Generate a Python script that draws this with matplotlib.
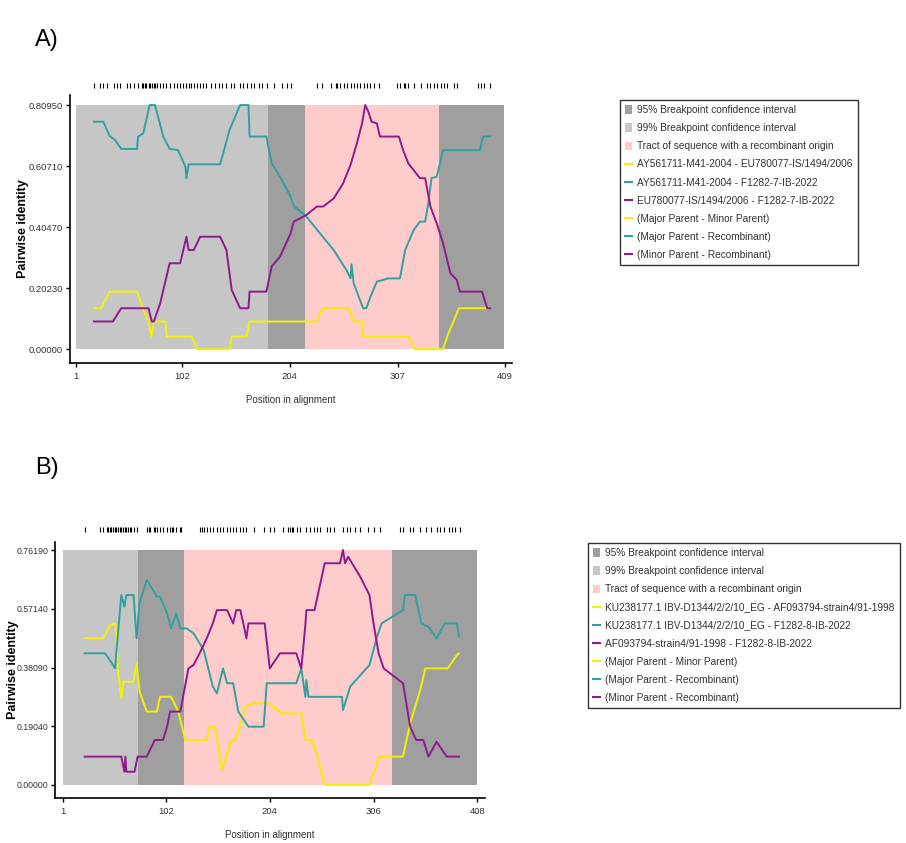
import numpy as np
import matplotlib
matplotlib.use("Agg")
import matplotlib.pyplot as plt
from matplotlib.patches import Patch
from matplotlib.lines import Line2D
from matplotlib.transforms import blended_transform_factory

plt.rcParams['font.family'] = ['Liberation Sans', 'DejaVu Sans']

# ---------------- panel A data ----------------
a_xticks = [1, 102, 204, 307, 409]
a_yticks = [0.0, 0.2023, 0.4047, 0.6071, 0.8095]
a_ylabels = ["0.00000", "0.20230", "0.40470", "0.60710", "0.80950"]
a_light = (1, 184)      # 99% breakpoint CI
a_dark = [(184, 219), (346, 408)]   # 95% breakpoint CI
a_pink = (219, 346)     # recombinant tract

a_yel_x = [18, 25, 33, 59, 65, 70, 73, 75, 86, 87, 111, 116, 147, 149, 163, 166, 230, 235,
           260, 265, 273, 274, 317, 323, 350, 355, 360, 365, 395]
a_yel_y = [0.136, 0.136, 0.191, 0.191, 0.130, 0.092, 0.042, 0.092, 0.092, 0.042, 0.042, 0.0,
           0.0, 0.042, 0.042, 0.092, 0.092, 0.136, 0.136, 0.092, 0.092, 0.042, 0.042, 0.0,
           0.0, 0.053, 0.092, 0.136, 0.136]

a_cyan_x = [18, 27, 33, 38, 44, 59, 60, 65, 71, 76, 84, 90, 98, 105, 106, 108, 119, 138, 147,
            157, 165, 166, 182, 187, 195, 205, 208, 220, 233, 246, 258, 262, 263, 265, 271,
            274, 277, 281, 287, 298, 309, 314, 322, 328, 333, 336, 339, 344, 350, 385, 388, 395]
a_cyan_y = [0.754, 0.754, 0.707, 0.694, 0.664, 0.664, 0.705, 0.716, 0.8095, 0.8095, 0.705,
            0.664, 0.660, 0.605, 0.567, 0.613, 0.613, 0.613, 0.727, 0.8095, 0.8095, 0.705,
            0.705, 0.616, 0.572, 0.506, 0.475, 0.440, 0.384, 0.329, 0.263, 0.235, 0.282,
            0.219, 0.163, 0.136, 0.136, 0.174, 0.224, 0.235, 0.235, 0.329, 0.395, 0.423,
            0.423, 0.484, 0.567, 0.572, 0.660, 0.660, 0.705, 0.705]

a_purp_x = [18, 36, 44, 70, 73, 75, 81, 90, 100, 106, 108, 113, 119, 138, 144, 149, 157, 165,
            166, 182, 187, 195, 205, 208, 220, 230, 236, 246, 255, 262, 268, 273, 276, 279,
            282, 287, 290, 308, 312, 317, 328, 333, 338, 344, 350, 357, 363, 366, 387, 392, 395]
a_purp_y = [0.092, 0.092, 0.136, 0.136, 0.092, 0.092, 0.152, 0.285, 0.285, 0.373, 0.329,
            0.329, 0.373, 0.373, 0.329, 0.197, 0.136, 0.136, 0.191, 0.191, 0.274, 0.307,
            0.384, 0.423, 0.445, 0.473, 0.473, 0.500, 0.550, 0.611, 0.682, 0.749, 0.8095,
            0.787, 0.754, 0.749, 0.705, 0.705, 0.660, 0.616, 0.567, 0.567, 0.473, 0.417,
            0.351, 0.252, 0.230, 0.191, 0.191, 0.136, 0.136]

a_sites = [18, 24, 27, 30, 37, 40, 43, 49, 52, 56, 60, 64, 65, 67, 68, 70, 71, 73, 75, 76, 78,
           81, 84, 87, 90, 94, 97, 100, 103, 106, 108, 110, 113, 116, 119, 122, 125, 129, 133,
           137, 140, 144, 148, 151, 157, 160, 164, 167, 170, 175, 178, 183, 189, 197, 202, 205,
           230, 235, 243, 248, 249, 252, 256, 259, 262, 265, 268, 271, 275, 278, 281, 284, 289,
           306, 309, 313, 314, 317, 322, 329, 335, 338, 341, 344, 348, 351, 354, 360, 363, 383,
           386, 389, 395]

a_names = ["AY561711-M41-2004 - EU780077-IS/1494/2006",
           "AY561711-M41-2004 - F1282-7-IB-2022",
           "EU780077-IS/1494/2006 - F1282-7-IB-2022"]

# ---------------- panel B data ----------------
b_xticks = [1, 102, 204, 306, 408]
b_yticks = [0.0, 0.1904, 0.3809, 0.5714, 0.7619]
b_ylabels = ["0.00000", "0.19040", "0.38090", "0.57140", "0.76190"]
b_light = (1, 74)
b_dark = [(74, 120), (324, 408)]
b_pink = (120, 324)

b_yel_x = [22, 40, 47, 52, 53, 55, 58, 60, 70, 73, 76, 83, 93, 96, 107, 114, 121, 142, 145,
           150, 157, 165, 171, 180, 188, 204, 211, 217, 235, 239, 245, 250, 258, 302, 312,
           335, 342, 352, 357, 379, 388, 390]
b_yel_y = [0.4755, 0.4755, 0.519, 0.524, 0.492, 0.362, 0.281, 0.335, 0.335, 0.394, 0.303,
           0.238, 0.238, 0.286, 0.286, 0.238, 0.146, 0.146, 0.189, 0.189, 0.049, 0.135,
           0.151, 0.254, 0.265, 0.265, 0.243, 0.232, 0.232, 0.146, 0.146, 0.103, 0.0, 0.0,
           0.092, 0.092, 0.200, 0.308, 0.378, 0.378, 0.421, 0.427]

b_cyan_x = [22, 42, 49, 52, 53, 58, 61, 63, 70, 73, 76, 83, 93, 96, 103, 107, 112, 116, 122,
            129, 139, 148, 152, 158, 162, 168, 173, 183, 198, 201, 230, 235, 239, 240, 242,
            275, 276, 280, 283, 302, 309, 314, 335, 337, 347, 353, 360, 368, 376, 388, 390]
b_cyan_y = [0.427, 0.427, 0.394, 0.378, 0.427, 0.616, 0.578, 0.616, 0.616, 0.4755, 0.589,
            0.665, 0.611, 0.611, 0.557, 0.508, 0.557, 0.508, 0.508, 0.492, 0.438, 0.319,
            0.297, 0.378, 0.330, 0.330, 0.238, 0.189, 0.189, 0.330, 0.330, 0.378, 0.286,
            0.340, 0.286, 0.286, 0.243, 0.286, 0.319, 0.389, 0.4755, 0.524, 0.567, 0.616,
            0.616, 0.524, 0.513, 0.4755, 0.524, 0.524, 0.481]

b_purp_x = [22, 58, 61, 62, 63, 71, 74, 83, 91, 99, 103, 106, 116, 124, 129, 135, 142, 148,
            152, 162, 168, 171, 175, 178, 181, 183, 199, 204, 214, 230, 235, 239, 240, 248,
            258, 273, 276, 278, 281, 293, 302, 306, 311, 316, 335, 342, 348, 355, 360, 368,
            378, 390]
b_purp_y = [0.092, 0.092, 0.043, 0.092, 0.043, 0.043, 0.092, 0.092, 0.146, 0.146, 0.189,
            0.238, 0.238, 0.378, 0.389, 0.427, 0.4755, 0.524, 0.567, 0.567, 0.524, 0.567,
            0.567, 0.524, 0.4755, 0.524, 0.524, 0.378, 0.427, 0.427, 0.378, 0.519, 0.567,
            0.567, 0.719, 0.719, 0.762, 0.719, 0.740, 0.675, 0.616, 0.524, 0.427, 0.378,
            0.330, 0.189, 0.146, 0.146, 0.092, 0.140, 0.092, 0.092]

b_sites = [22, 37, 40, 44, 45, 47, 48, 50, 52, 53, 55, 57, 58, 60, 62, 63, 65, 67, 68, 70, 73,
           83, 85, 86, 90, 91, 93, 96, 99, 103, 106, 108, 109, 112, 116, 117, 135, 137, 139,
           142, 145, 148, 152, 155, 158, 162, 165, 168, 171, 175, 178, 181, 188, 198, 204, 208,
           217, 222, 224, 226, 227, 231, 234, 240, 244, 247, 250, 253, 260, 263, 267, 276, 280,
           283, 288, 293, 301, 306, 312, 332, 335, 342, 345, 352, 358, 363, 368, 371, 375, 380,
           383, 386, 391]

b_names = ["KU238177.1 IBV-D1344/2/2/10_EG - AF093794-strain4/91-1998",
           "KU238177.1 IBV-D1344/2/2/10_EG - F1282-8-IB-2022",
           "AF093794-strain4/91-1998 - F1282-8-IB-2022"]

pair_names = ["(Major Parent - Minor Parent)",
              "(Major Parent - Recombinant)",
              "(Minor Parent - Recombinant)"]

c_light = "#c6c6c6"
c_dark = "#9f9f9f"
c_pink = "#ffcccc"
c_yel = "#f2f200"
c_cyan = "#33a0a0"
c_purp = "#8e1a8e"


def shade_rects(ax, light, darks, pink, top):
    ax.fill_between([light[0], light[1]], 0, top, color=c_light, lw=0)
    ax.fill_between([pink[0], pink[1]], 0, top, color=c_pink, lw=0)
    for d in darks:
        ax.fill_between([d[0], d[1]], 0, top, color=c_dark, lw=0)


def draw(ax, light, darks, pink, top, lines, sites, xticks, yticks, ylabels, xlim, ylim, rug_y,
         ylab_x, ysize):
    shade_rects(ax, light, darks, pink, top)
    for (xs, ys, c) in lines:
        ax.plot(xs, ys, color=c, lw=1.4)
    ax.set_xlim(*xlim)
    ax.set_ylim(*ylim)
    tr = blended_transform_factory(ax.transData, ax.transAxes)
    ax.vlines(sites, rug_y[0], rug_y[1], transform=tr, color="black", lw=0.8, clip_on=False)
    for s in ["top", "right"]:
        ax.spines[s].set_visible(False)
    ax.spines["left"].set_linewidth(1.2)
    ax.spines["bottom"].set_linewidth(1.2)
    ax.set_xticks(xticks)
    ax.set_yticks(yticks)
    ax.set_yticklabels(ylabels)
    ax.tick_params(axis="both", labelsize=6.8, length=3, width=1, color="black", labelcolor="#333333")
    ax.tick_params(axis="y", labelsize=ysize, pad=2)
    ax.set_ylabel("Pairwise identity", fontsize=9, fontweight="bold")
    ax.yaxis.set_label_coords(ylab_x, 0.5)
    ax.set_xlabel("Position in alignment", fontsize=7, color="#333333", labelpad=10)


def legend(fig, ax, names, anchor):
    handles = [Patch(facecolor=c_dark, edgecolor="none"),
               Patch(facecolor=c_light, edgecolor="none"),
               Patch(facecolor=c_pink, edgecolor="none")]
    labels = ["95% Breakpoint confidence interval",
              "99% Breakpoint confidence interval",
              "Tract of sequence with a recombinant origin"]
    for n, c in zip(names, [c_yel, c_cyan, c_purp]):
        handles.append(Line2D([], [], color=c, lw=1.5))
        labels.append(n)
    for n, c in zip(pair_names, [c_yel, c_cyan, c_purp]):
        handles.append(Line2D([], [], color=c, lw=1.5))
        labels.append(n)
    leg = ax.legend(handles, labels, loc="upper left", bbox_to_anchor=anchor,
                    bbox_transform=fig.transFigure, fontsize=7.3, frameon=True,
                    fancybox=False, edgecolor="black", handlelength=0.7, handleheight=0.9,
                    handletextpad=0.5, labelspacing=0.8, borderpad=0.5, borderaxespad=0)
    leg.get_frame().set_linewidth(1.0)
    for t in leg.get_texts():
        t.set_color("#333333")


fig = plt.figure(figsize=(9.06, 8.43), dpi=100)

axA = fig.add_axes([0.0773, 0.5694, 0.488, 0.318])
draw(axA, a_light, a_dark, a_pink, 0.8095,
     [(a_yel_x, a_yel_y, c_yel), (a_cyan_x, a_cyan_y, c_cyan), (a_purp_x, a_purp_y, c_purp)],
     a_sites, a_xticks, a_yticks, a_ylabels, (-4.7, 415.7), (-0.0455, 0.843), (1.026, 1.045),
     -0.093, 6.8)
legend(fig, axA, a_names, (620 / 906, 1 - 100 / 843))

axB = fig.add_axes([0.0607, 0.0534, 0.4746, 0.3037])
draw(axB, b_light, b_dark, b_pink, 0.7619,
     [(b_yel_x, b_yel_y, c_yel), (b_cyan_x, b_cyan_y, c_cyan), (b_purp_x, b_purp_y, c_purp)],
     b_sites, b_xticks, b_yticks, b_ylabels, (-7.2, 415.6), (-0.0421, 0.788), (1.039, 1.059),
     -0.084, 6.3)
legend(fig, axB, b_names, (588 / 906, 1 - 543 / 843))

fig.text(35 / 906, 1 - 40 / 843, "A)", fontsize=17, va="center", ha="left")
fig.text(35 / 906, 1 - 468 / 843, "B)", fontsize=17, va="center", ha="left")

fig.savefig("out.png", dpi=100)
